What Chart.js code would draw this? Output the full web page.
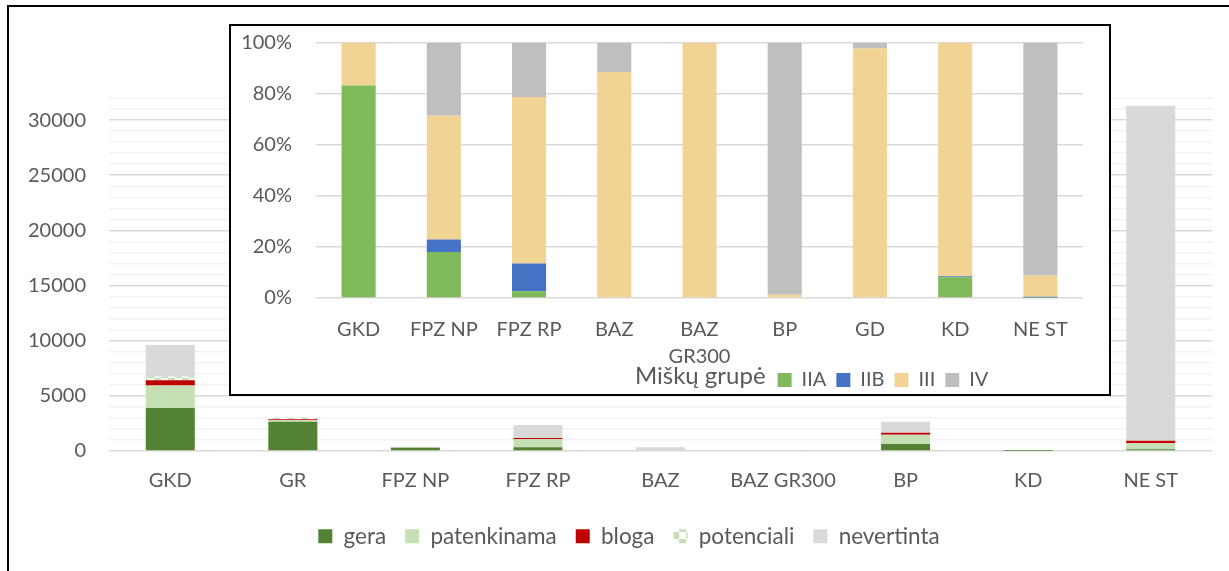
<!DOCTYPE html>
<html>
<head>
<meta charset="utf-8">
<script src="https://cdn.jsdelivr.net/npm/chart.js@4.4.1/dist/chart.umd.min.js"></script>
<style>
  html, body { margin: 0; padding: 0; background: #fff; }
  #page { position: relative; width: 1229px; height: 571px; overflow: hidden; }
  #frame { position: absolute; left: 7px; top: 5px; width: 1300px; height: 700px;
           border-top: 2px solid #000; border-left: 2px solid #000; }
  #mainWrap { position: absolute; left: 0; top: 0; width: 1229px; height: 571px; }
  #inset { position: absolute; left: 229px; top: 24px; width: 882px; height: 372px;
           box-sizing: border-box; border: 2px solid #000; background: #fff; }
  #insetWrap { position: absolute; left: 0; top: 0; width: 878px; height: 368px; }
</style>
</head>
<body>
<div id="page">
  <div id="frame"></div>
  <div id="mainWrap"><canvas id="mainChart"></canvas></div>
  <div id="inset"><div id="insetWrap"><canvas id="insetChart"></canvas></div></div>
</div>
<script>
// main chart: area by condition (ha)
const categories = ['GKD', 'GR', 'FPZ NP', 'FPZ RP', 'BAZ', 'BAZ GR300', 'BP', 'KD', 'NE ST'];
const gera =        [3900, 2660, 300,  340,  0,   0,  630, 10, 150];
const patenkinama = [2030, 120,  60,   730,  0,   0,  850, 10, 550];
const bloga =       [490,  90,   0,    110,  0,   0,  180, 0,  235];
const potenciali =  [320,  130,  0,    0,    0,   0,  0,   0,  0];
const nevertinta =  [2880, 0,    20,   1180, 335, 20, 1000, 0, 30365];
const mainTickLabels = [0, 5000, 10000, 15000, 20000, 25000, 30000];

// inset: forest groups, percent
const insetCategories = ['GKD', 'FPZ NP', 'FPZ RP', 'BAZ', ['BAZ', 'GR300'], 'BP', 'GD', 'KD', 'NE ST'];
const grpIIA = [83.3, 18.0, 2.6,  0,    0,   0,    0,    8.1,  0.1];
const grpIIB = [0,    4.9,  10.9, 0,    0,   0,    0,    0.4,  0.4];
const grpIII = [16.7, 48.6, 65.3, 88.6, 100, 1.3,  97.8, 91.5, 8.3];
const grpIV  = [0,    28.5, 21.2, 11.4, 0,   98.7, 2.2,  0,    91.2];
const insetTickLabels = [0, 20, 40, 60, 80, 100];

Chart.defaults.font.family = 'Lato';
Chart.defaults.font.size = 20;
Chart.defaults.color = '#595959';
Chart.defaults.animation = false;

function checkerPattern() {
  const c = document.createElement('canvas');
  c.width = 14; c.height = 14;
  const g = c.getContext('2d');
  g.fillStyle = '#ffffff';
  g.fillRect(0, 0, 14, 14);
  g.fillStyle = '#c5e0b4';
  g.fillRect(0, 0, 7, 7);
  g.fillRect(7, 7, 7, 7);
  return g.createPattern(c, 'repeat');
}

// moves a legend after layout (Excel places legends a bit off-centre),
// optionally writes a title in front of it and lets x labels run lower
function legendMover(id, dx, dy, title, xExtra) {
  return {
    id: id,
    afterLayout(chart) {
      const lg = chart.legend;
      lg.left += dx; lg.right += dx;
      lg.top += dy; lg.bottom += dy;
      if (xExtra) chart.scales.x.bottom += xExtra;
    },
    afterDraw(chart) {
      if (!title) return;
      const hb = chart.legend.legendHitBoxes[0];
      const ctx = chart.ctx;
      ctx.save();
      ctx.font = '24px Lato';
      ctx.fillStyle = '#595959';
      ctx.textAlign = 'right';
      ctx.textBaseline = 'middle';
      ctx.fillText(title, hb.left - 12, hb.top + hb.height / 2 - 4);
      ctx.restore();
    }
  };
}

const mainDatasets = [
  { label: 'gera', data: gera, backgroundColor: '#548235' },
  { label: 'patenkinama', data: patenkinama, backgroundColor: '#c5e0b4' },
  { label: 'bloga', data: bloga, backgroundColor: '#c00000' },
  { label: 'potenciali', data: potenciali, backgroundColor: checkerPattern() },
  { label: 'nevertinta', data: nevertinta, backgroundColor: '#d9d9d9' }
];

new Chart(document.getElementById('mainChart'), {
  type: 'bar',
  data: { labels: categories, datasets: mainDatasets.map(d => Object.assign({ barPercentage: 0.4, categoryPercentage: 1, borderWidth: 0 }, d)) },
  options: {
    responsive: true,
    maintainAspectRatio: false,
    layout: { padding: { left: 0, right: 17, top: 98, bottom: 19.5 } },
    plugins: {
      tooltip: { enabled: false },
      legend: {
        position: 'bottom',
        labels: { boxWidth: 14, boxHeight: 14, padding: 19, color: '#595959', font: { size: 22.5 } }
      }
    },
    scales: {
      x: {
        stacked: true,
        grid: { display: false, drawTicks: false },
        border: { display: false },
        ticks: { padding: 18, autoSkip: false, maxRotation: 0 },
        afterFit(s) { s.height = 49; }
      },
      y: {
        stacked: true,
        min: 0,
        max: 32000,
        border: { display: false },
        grid: {
          drawTicks: false,
          lineWidth: 1.5,
          color: c => (c.tick && mainTickLabels.includes(c.tick.value)) ? '#d9d9d9' : '#f2f2f2'
        },
        ticks: {
          stepSize: 1000,
          maxTicksLimit: 100,
          autoSkip: false,
          padding: 23,
          callback: v => mainTickLabels.includes(v) ? String(v) : ''
        },
        afterFit(s) { s.width = 109; s.paddingTop = 0; s.paddingBottom = 0; }
      }
    }
  },
  plugins: [legendMover('mainLegend', 23, 6)]
});

new Chart(document.getElementById('insetChart'), {
  type: 'bar',
  data: {
    labels: insetCategories,
    datasets: [
      { label: 'IIA', data: grpIIA, backgroundColor: '#7fba5a' },
      { label: 'IIB', data: grpIIB, backgroundColor: '#4472c4' },
      { label: 'III', data: grpIII, backgroundColor: '#f1d394' },
      { label: 'IV', data: grpIV, backgroundColor: '#bfbfbf' }
    ].map(d => Object.assign({ barPercentage: 0.4, categoryPercentage: 1, borderWidth: 0 }, d))
  },
  options: {
    responsive: true,
    maintainAspectRatio: false,
    layout: { padding: { left: 0, right: 26, top: 17, bottom: 4 } },
    plugins: {
      tooltip: { enabled: false },
      legend: {
        position: 'bottom',
        labels: { boxWidth: 14, boxHeight: 14, padding: 10, color: '#595959' }
      }
    },
    scales: {
      x: {
        stacked: true,
        grid: { display: false, drawTicks: false },
        border: { display: false },
        ticks: { padding: 18, autoSkip: false, maxRotation: 0, font: { lineHeight: 1.35 } },
        afterFit(s) { s.height = 52; }
      },
      y: {
        stacked: true,
        min: 0,
        max: 100,
        border: { display: false },
        grid: { drawTicks: false, lineWidth: 1.5, color: '#d9d9d9' },
        ticks: {
          stepSize: 20,
          padding: 24,
          callback: v => insetTickLabels.includes(v) ? v + '%' : ''
        },
        afterFit(s) { s.width = 85; s.paddingTop = 0; s.paddingBottom = 0; }
      }
    }
  },
  plugins: [legendMover('insetLegend', 226, 10, 'Miškų grupė', 40)]
});
</script>
</body>
</html>
